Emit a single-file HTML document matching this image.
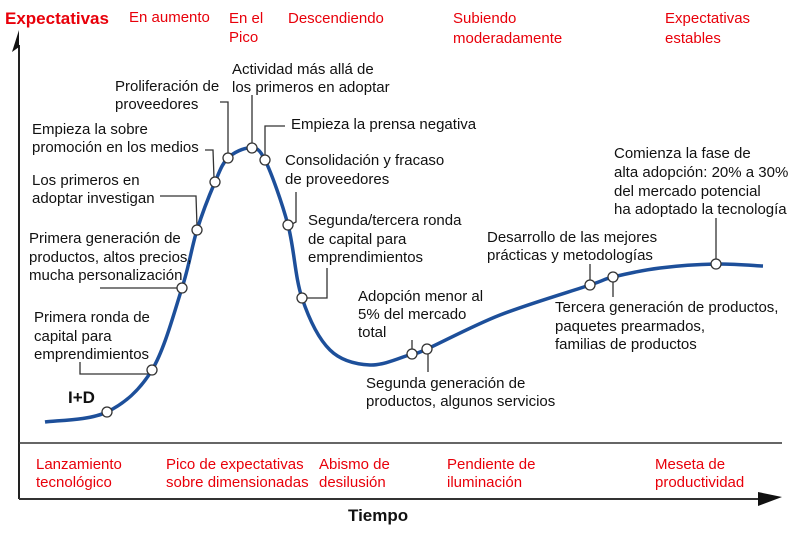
<!DOCTYPE html>
<html><head><meta charset="utf-8"><style>
html,body{margin:0;padding:0;background:#fff;}
svg{display:block;}
text{font-family:"Liberation Sans",sans-serif;font-size:15px;fill:#111;}
.r{fill:#e8000a;}
.b{font-weight:bold;font-size:17px;}
</style></head><body>
<svg width="800" height="533" viewBox="0 0 800 533" xmlns="http://www.w3.org/2000/svg">
<line x1="19" y1="45" x2="19" y2="499" stroke="#222" stroke-width="2"/>
<polygon points="19,30 12,52 19,47" fill="#111"/>
<line x1="19" y1="443" x2="782" y2="443" stroke="#333" stroke-width="1.5"/>
<line x1="19" y1="499" x2="770" y2="499" stroke="#333" stroke-width="2"/>
<polygon points="758,492 782,497 758,506" fill="#111"/>
<g stroke="#333" stroke-width="1.3" fill="none">
<polyline points="80,362 80,374 148,374"/>
<polyline points="100,288 178,288"/>
<polyline points="160,196 196,196 197,226"/>
<polyline points="205,150 213,150 214,178"/>
<polyline points="220,102 228,102 228,154"/>
<polyline points="252,95 252,145"/>
<polyline points="285,126 265,126 265,156"/>
<polyline points="296,192 296,222 292,224"/>
<polyline points="327,268 327,298 306,298"/>
<polyline points="412,340 412,351"/>
<polyline points="428,353 428,372"/>
<polyline points="590,264 590,282"/>
<polyline points="613,280 613,297"/>
<polyline points="716,218 716,260"/>
</g>
<path id="curve" fill="none" stroke="#1d4f9a" stroke-width="3.5"/>
<g id="dots" fill="#fff" stroke="#333" stroke-width="1.3"></g>
<text x="5" y="24" class="r b">Expectativas</text>
<text x="129" y="22" class="r">En aumento</text>
<text x="229" y="23" class="r">En el</text><text x="229" y="42" class="r">Pico</text>
<text x="288" y="23" class="r">Descendiendo</text>
<text x="453" y="23" class="r">Subiendo</text><text x="453" y="43" class="r">moderadamente</text>
<text x="665" y="23" class="r">Expectativas</text><text x="665" y="43" class="r">estables</text>
<text x="232" y="74">Actividad más allá de</text><text x="232" y="92">los primeros en adoptar</text>
<text x="115" y="91">Proliferación de</text><text x="115" y="109">proveedores</text>
<text x="291" y="129">Empieza la prensa negativa</text>
<text x="32" y="134">Empieza la sobre</text><text x="32" y="152">promoción en los medios</text>
<text x="285" y="165">Consolidación y fracaso</text><text x="285" y="184">de proveedores</text>
<text x="32" y="185">Los primeros en</text><text x="32" y="203">adoptar investigan</text>
<text x="308" y="225">Segunda/tercera ronda</text><text x="308" y="244">de capital para</text><text x="308" y="262">emprendimientos</text>
<text x="29" y="243">Primera generación de</text><text x="29" y="262">productos, altos precios,</text><text x="29" y="280">mucha personalización</text>
<text x="614" y="158">Comienza la fase de</text><text x="614" y="177">alta adopción: 20% a 30%</text><text x="614" y="196">del mercado potencial</text><text x="614" y="214">ha adoptado la tecnología</text>
<text x="487" y="242">Desarrollo de las mejores</text><text x="487" y="260">prácticas y metodologías</text>
<text x="358" y="301">Adopción menor al</text><text x="358" y="319">5% del mercado</text><text x="358" y="337">total</text>
<text x="34" y="322">Primera ronda de</text><text x="34" y="341">capital para</text><text x="34" y="359">emprendimientos</text>
<text x="555" y="312">Tercera generación de productos,</text><text x="555" y="331">paquetes prearmados,</text><text x="555" y="349">familias de productos</text>
<text x="366" y="388">Segunda generación de</text><text x="366" y="406">productos, algunos servicios</text>
<text x="68" y="403" class="b">I+D</text>
<text x="36" y="469" class="r">Lanzamiento</text><text x="36" y="487" class="r">tecnológico</text>
<text x="166" y="469" class="r">Pico de expectativas</text><text x="166" y="487" class="r">sobre dimensionadas</text>
<text x="319" y="469" class="r">Abismo de</text><text x="319" y="487" class="r">desilusión</text>
<text x="447" y="469" class="r">Pendiente de</text><text x="447" y="487" class="r">iluminación</text>
<text x="655" y="469" class="r">Meseta de</text><text x="655" y="487" class="r">productividad</text>
<text x="348" y="521" class="b">Tiempo</text>
</svg>
<script>
var P=[[45,422],[107,412],[152,370],[182,288],[197,230],[215,182],[228,158],[250,148],[265,160],[288,225],[302,298],[330,350],[370,365],[412,354],[427,349],[500,315],[590,285],[613,277],[660,268],[716,264],[763,266]];
var d="M"+P[0][0]+","+P[0][1];
for(var i=0;i<P.length-1;i++){var p0=P[i-1]||P[i],p1=P[i],p2=P[i+1],p3=P[i+2]||P[i+1];
var c1=[p1[0]+(p2[0]-p0[0])/6,p1[1]+(p2[1]-p0[1])/6],c2=[p2[0]-(p3[0]-p1[0])/6,p2[1]-(p3[1]-p1[1])/6];
d+=" C"+c1+" "+c2+" "+p2;}
document.getElementById("curve").setAttribute("d",d);
var D=[[107,412],[152,370],[182,288],[197,230],[215,182],[228,158],[252,148],[265,160],[288,225],[302,298],[412,354],[427,349],[590,285],[613,277],[716,264]];
var g=document.getElementById("dots"),h="";
D.forEach(function(q){h+='<circle cx="'+q[0]+'" cy="'+q[1]+'" r="5"/>';});
g.innerHTML=h;
</script>
</body></html>
